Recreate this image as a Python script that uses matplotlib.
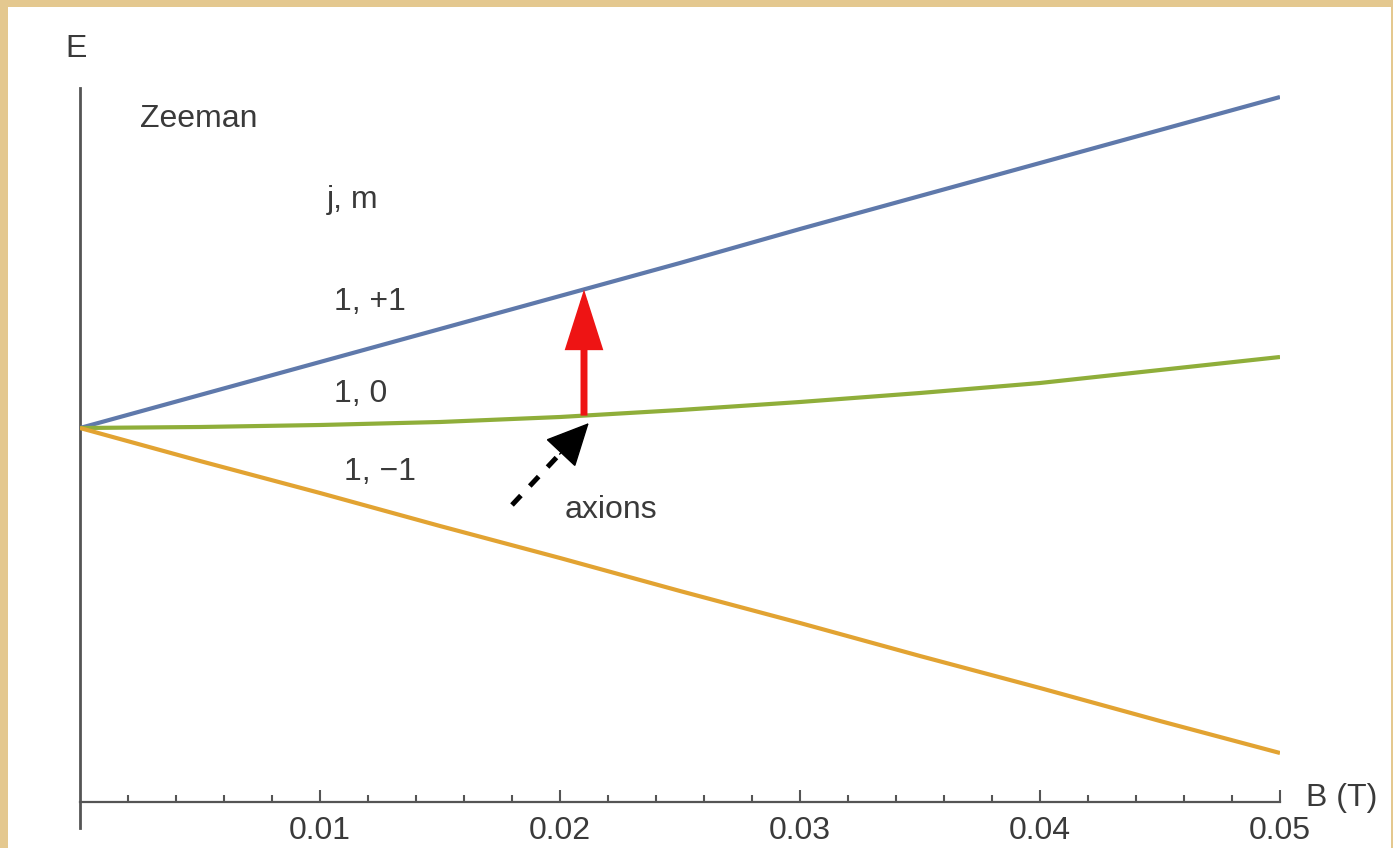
"""Zeeman splitting of the j=1 level with the axion-driven transition."""

import matplotlib

matplotlib.use("Agg")
import matplotlib.pyplot as plt
from matplotlib.patches import Rectangle
from matplotlib.ticker import FixedLocator
import numpy as np

plt.rcParams["font.family"] = ["Liberation Sans", "DejaVu Sans"]

# field values (T) and level energies (arbitrary units)
b_field = [0.0, 0.005, 0.01, 0.015, 0.02, 0.025, 0.03, 0.035, 0.04, 0.045, 0.05]
e_plus = [0.0, 0.33, 0.66, 0.99, 1.32, 1.65, 1.99, 2.32, 2.65, 2.98, 3.31]
e_zero = [0.0, 0.01, 0.03, 0.06, 0.11, 0.18, 0.26, 0.35, 0.45, 0.58, 0.71]
e_minus = [0.0, -0.33, -0.65, -0.98, -1.30, -1.63, -1.95, -2.28, -2.60, -2.93, -3.25]

level_labels = ["1, +1", "1, 0", "1, \u22121"]
major_ticks = [0.01, 0.02, 0.03, 0.04, 0.05]
tick_labels = ["0.01", "0.02", "0.03", "0.04", "0.05"]

transition_b = 0.021
axion_start = (0.0180, -0.77)
axion_tip = (0.0212, 0.05)

BLUE = "#5f79ab"
GREEN = "#8fae3a"
ORANGE = "#e2a332"
TEXT = "#3a3a3a"
AXIS = "#555555"
FS = 23

fig = plt.figure(figsize=(13.93, 8.48), dpi=100)
fig.patch.set_facecolor("#e4c88f")
fig.patches.append(
    Rectangle((8 / 1393, 0), 1383 / 1393, 841 / 848, transform=fig.transFigure,
              facecolor="white", edgecolor="none", zorder=-5)
)

ax = fig.add_axes([80 / 1393, 20 / 848, 1200 / 1393, 740 / 848])
ax.set_facecolor("none")
ax.set_xlim(0, 0.05)
ax.set_ylim(-4.0, 3.40)

ax.plot(b_field, e_plus, color=BLUE, lw=3.0, solid_capstyle="butt", zorder=3)
ax.plot(b_field, e_zero, color=GREEN, lw=3.0, solid_capstyle="butt", zorder=3)
ax.plot(b_field, e_minus, color=ORANGE, lw=3.0, solid_capstyle="butt", zorder=3)

# transition arrow between m=0 and m=+1
e_from = np.interp(transition_b, b_field, e_zero)
e_to = np.interp(transition_b, b_field, e_plus)
ax.annotate("", xy=(transition_b, e_to), xytext=(transition_b, e_from),
            arrowprops=dict(arrowstyle="-|>,head_length=3.3,head_width=1.05",
                            color="#ee1414", lw=5, shrinkA=0, shrinkB=0,
                            joinstyle="miter", capstyle="butt",
                            mutation_scale=10),
            zorder=4)

# incoming axion: dashed tail, solid head
frac = 0.62
axion_mid = (axion_start[0] + frac * (axion_tip[0] - axion_start[0]),
             axion_start[1] + frac * (axion_tip[1] - axion_start[1]))
ax.annotate("", xy=axion_mid, xytext=axion_start,
            arrowprops=dict(arrowstyle="-", color="black", lw=3.6,
                            linestyle=(0, (2.6, 2.6)), capstyle="butt",
                            shrinkA=0, shrinkB=0),
            zorder=4)
ax.annotate("", xy=axion_tip, xytext=axion_mid,
            arrowprops=dict(arrowstyle="-|>,head_length=2.8,head_width=1.35",
                            color="black", lw=1, joinstyle="miter",
                            shrinkA=0, shrinkB=0, mutation_scale=10),
            zorder=4)

# spines and ticks
for side in ["top", "right"]:
    ax.spines[side].set_visible(False)
ax.spines["left"].set_color(AXIS)
ax.spines["left"].set_linewidth(2.0)
ax.spines["bottom"].set_position(("data", -3.74))
ax.spines["bottom"].set_color(AXIS)
ax.spines["bottom"].set_linewidth(1.6)

ax.set_yticks([])
ax.set_xticks(major_ticks)
ax.set_xticklabels(tick_labels)
ax.xaxis.set_minor_locator(FixedLocator([0.002 * i for i in range(1, 25) if i % 5]))
ax.tick_params(axis="x", which="major", direction="in", length=9, width=1.5,
               color=AXIS, labelsize=FS, labelcolor=TEXT, pad=10)
ax.tick_params(axis="x", which="minor", direction="in", length=5, width=1.5,
               color=AXIS)

# labels
ax.text(-0.0006, 3.71, "E", fontsize=FS, color=TEXT, ha="left", va="baseline")
ax.text(0.0511, -3.70, "B (T)", fontsize=FS, color=TEXT, ha="left", va="center")
ax.text(0.0025, 3.01, "Zeeman", fontsize=FS, color=TEXT, ha="left", va="baseline")
ax.text(0.0103, 2.20, "j, m", fontsize=FS, color=TEXT, ha="left", va="baseline")
ax.text(0.0106, 1.18, level_labels[0], fontsize=FS, color=TEXT, ha="left", va="baseline")
ax.text(0.0106, 0.26, level_labels[1], fontsize=FS, color=TEXT, ha="left", va="baseline")
ax.text(0.0110, -0.52, level_labels[2], fontsize=FS, color=TEXT, ha="left", va="baseline")
ax.text(0.0202, -0.90, "axions", fontsize=FS, color=TEXT, ha="left", va="baseline")

fig.savefig("out.png", dpi=100, facecolor=fig.get_facecolor())
